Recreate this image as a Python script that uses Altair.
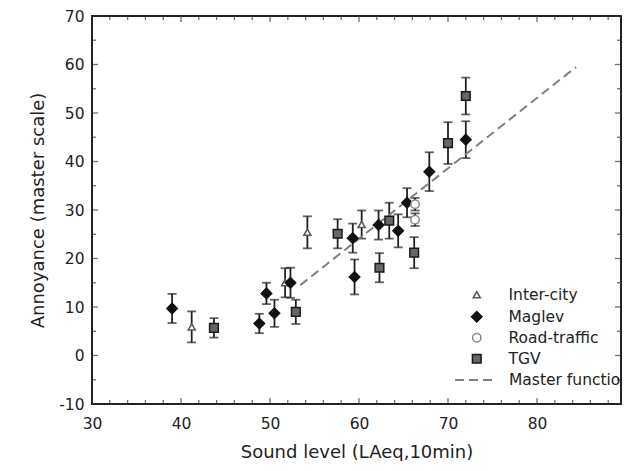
import altair as alt
import pandas as pd

# ---- data ----
series_names = ["Inter-city", "Maglev", "Road-traffic", "TGV"]
marker_sizes = [50, 110, 70, 75]

intercity_x = [41.2, 51.7, 54.2, 60.3]
intercity_y = [5.9, 15.0, 25.4, 27.0]
intercity_err = [3.2, 3.0, 3.3, 2.9]

maglev_x = [39.0, 48.8, 49.6, 50.5, 52.3, 59.3, 59.5, 62.2, 64.4, 65.4, 67.9, 72.0]
maglev_y = [9.7, 6.6, 12.8, 8.7, 15.0, 24.2, 16.2, 26.9, 25.7, 31.5, 37.9, 44.5]
maglev_err = [3.0, 2.0, 2.2, 2.8, 3.1, 3.0, 3.6, 3.0, 3.4, 3.0, 4.0, 3.8]

road_x = [66.3, 66.3]
road_y = [31.2, 28.0]
road_err = [1.3, 1.3]

tgv_x = [43.7, 52.9, 57.6, 62.3, 63.4, 66.2, 70.0, 72.0]
tgv_y = [5.7, 9.0, 25.1, 18.1, 27.8, 21.2, 43.8, 53.5]
tgv_err = [2.0, 2.5, 3.0, 3.0, 3.7, 3.2, 4.3, 3.8]

master_x = [53.4, 84.4]
master_y = [14.5, 59.5]

x_major = [30, 40, 50, 60, 70, 80, 90]
x_minor = [v for v in range(32, 90, 2) if v % 10 != 0]
y_major = [-10, 0, 10, 20, 30, 40, 50, 60, 70]
y_minor = [-5, 5, 15, 25, 35, 45, 55, 65]

# ---- tables ----
rows = []
for name, xs_, ys_, es_ in [
    ("Inter-city", intercity_x, intercity_y, intercity_err),
    ("Maglev", maglev_x, maglev_y, maglev_err),
    ("Road-traffic", road_x, road_y, road_err),
    ("TGV", tgv_x, tgv_y, tgv_err),
]:
    for a, b, e in zip(xs_, ys_, es_):
        rows.append({"x": a, "y": b, "lo": b - e, "hi": b + e, "series": name})
pts = pd.DataFrame(rows)
master = pd.DataFrame({"x": master_x, "y": master_y, "name": ["Master function"] * 2})

FONT = "DejaVu Sans"
TXT = "#222"
W, H = 529, 388
PX_PER_UNIT = 8.9
X_MAX = 30 + W / PX_PER_UNIT   # plot frame is cut just before 90, as in the reference

xs = alt.Scale(domain=[30, X_MAX], nice=False, zero=False)
ys = alt.Scale(domain=[-10, 70], nice=False, zero=False)

xaxis = alt.Axis(values=x_major, ticks=False, domain=False, grid=False,
                 labelFont=FONT, labelFontSize=15.5, labelColor=TXT, labelPadding=12,
                 labelFlush=False, labelExpr="'' + datum.value",
                 titleFont=FONT, titleFontSize=18,
                 titleFontWeight="normal", titleColor=TXT, titlePadding=12)
yaxis = alt.Axis(values=y_major, ticks=False, domain=False, grid=False,
                 labelFont=FONT, labelFontSize=15.5, labelColor=TXT, labelPadding=8,
                 labelExpr="'' + datum.value",
                 titleFont=FONT, titleFontSize=18, titleFontWeight="normal",
                 titleColor=TXT, titlePadding=11)

leg1 = alt.Legend(title=None, orient="none", legendX=377, legendY=271, padding=0,
                  labelFont=FONT, labelFontSize=15.5, labelColor=TXT,
                  labelOffset=24, rowPadding=4.0, symbolStrokeWidth=1.5)

shape_sc = alt.Scale(domain=series_names, range=["triangle-up", "diamond", "circle", "square"])
fill_sc = alt.Scale(domain=series_names, range=["white", "#111111", "white", "#666666"])
stroke_sc = alt.Scale(domain=series_names, range=["#555555", "#111111", "#8a8a8a", "#1a1a1a"])
size_sc = alt.Scale(type="ordinal", domain=series_names, range=marker_sizes)

err = alt.Chart(pts).mark_errorbar(ticks=True, size=9, thickness=1.8, color="#222").encode(
    x=alt.X("x:Q", scale=xs, axis=xaxis, title="Sound level (LAeq,10min)"),
    y=alt.Y("lo:Q", scale=ys, axis=yaxis, title="Annoyance (master scale)"),
    y2="hi:Q",
)

line = alt.Chart(master).mark_line(color="#808080", strokeWidth=2).encode(
    x=alt.X("x:Q", scale=xs),
    y=alt.Y("y:Q", scale=ys),
    strokeDash=alt.StrokeDash(
        "name:N",
        scale=alt.Scale(domain=["Master function"], range=[[9, 5]]),
        legend=alt.Legend(title=None, orient="none", legendX=362, legendY=343, padding=0,
                          labelFont=FONT, labelFontSize=15.5, labelColor=TXT,
                          labelOffset=13, symbolType="stroke", symbolSize=1600,
                          symbolStrokeWidth=2, symbolStrokeColor="#808080"),
    ),
)

pt = alt.Chart(pts).mark_point(opacity=1, strokeWidth=1.5).encode(
    x=alt.X("x:Q", scale=xs),
    y=alt.Y("y:Q", scale=ys),
    shape=alt.Shape("series:N", scale=shape_sc, legend=leg1),
    fill=alt.Fill("series:N", scale=fill_sc, legend=leg1),
    stroke=alt.Stroke("series:N", scale=stroke_sc, legend=leg1),
    size=alt.Size("series:N", scale=size_sc, legend=leg1),
)

xmaj = pd.DataFrame({"v": x_major[:-1]})
xmin = pd.DataFrame({"v": x_minor})
ymaj = pd.DataFrame({"v": y_major})
ymin = pd.DataFrame({"v": y_minor})

def xticks(df, L, at, sign):
    return alt.Chart(df).mark_tick(orient="vertical", size=L, thickness=1.3, color="#333",
                                   yOffset=sign * L / 2).encode(
        x=alt.X("v:Q", scale=xs), y=alt.datum(at))

def yticks(df, L, at, sign):
    return alt.Chart(df).mark_tick(orient="horizontal", size=L, thickness=1.3, color="#333",
                                   xOffset=sign * L / 2).encode(
        y=alt.Y("v:Q", scale=ys), x=alt.datum(at))

ticks = [
    xticks(xmaj, 6, -10, -1), xticks(xmin, 4, -10, -1),
    xticks(xmaj, 6, 70, 1), xticks(xmin, 4, 70, 1),
    yticks(ymaj, 6, 30, 1), yticks(ymin, 4, 30, 1),
    yticks(ymaj, 6, X_MAX, -1), yticks(ymin, 4, X_MAX, -1),
]

chart = (
    alt.layer(err, line, pt, *ticks)
    .properties(
        width=W, height=H,
        padding={"left": 84, "top": 8, "right": 1, "bottom": 57},
        autosize=alt.AutoSizeParams(type="none"),
    )
    .configure(font=FONT, background="white")
    .configure_view(stroke="#222", strokeWidth=2)
)

chart.save("out.html", embed_options={"renderer": "svg", "actions": False})
